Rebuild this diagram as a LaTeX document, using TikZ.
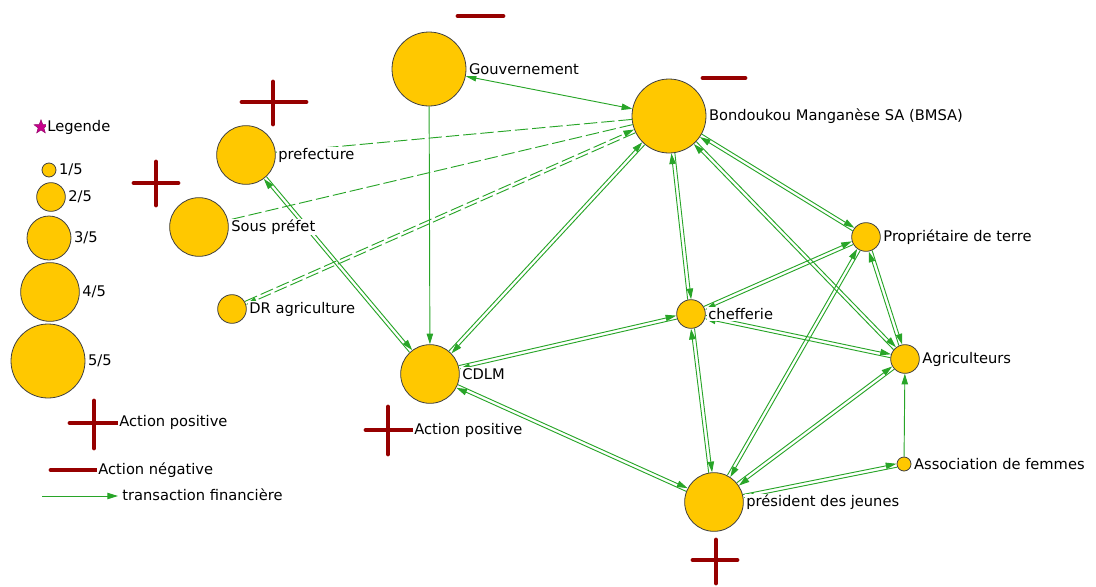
\documentclass[tikz,border=0pt]{standalone}
\usepackage{fontspec}
\setmainfont{DejaVu Sans}
\usetikzlibrary{arrows.meta,calc,positioning,backgrounds,shapes.geometric}

\definecolor{jaune}{RGB}{255,200,0}
\definecolor{vert}{RGB}{40,165,40}
\definecolor{rouge}{RGB}{150,0,0}
\definecolor{rose}{RGB}{200,0,140}

\tikzset{
  acteur/.style={circle, draw=black!75, fill=jaune, inner sep=0pt, line width=0.6pt},
  taille1/.style={acteur, minimum size=10.5pt},
  taille2/.style={acteur, minimum size=21.5pt},
  taille3/.style={acteur, minimum size=33pt},
  taille4/.style={acteur, minimum size=44pt},
  taille5/.style={acteur, minimum size=55.5pt},
  lbl/.style={fill=white, inner sep=0.8pt, font=\fontsize{11}{13}\selectfont},
  pointe/.tip={Triangle[length=8pt,width=4.8pt]},
  flux/.style={draw=vert, line width=0.7pt, -pointe},
  fluxp/.style={flux, dash pattern=on 10pt off 3pt},
  signe/.style={draw=rouge, line width=3.6pt, line cap=round},
}

%% deux traits paralleles, un dans chaque sens
\newcommand{\echange}[3][]{%
  \draw[flux,#1,transform canvas={shift={($(#2)!1.3pt!90:(#3)-(#2)$)}}] (#2) -- (#3);
  \draw[flux,#1,transform canvas={shift={($(#3)!1.3pt!90:(#2)-(#3)$)}}] (#3) -- (#2);
}

\begin{document}
\begin{tikzpicture}[x=0.75pt,y=-0.75pt]
   \useasboundingbox (0,0) rectangle (1096,586);

   %% Acteurs
   \node[taille5] (gouv)  at (429,69)  {};
   \node[taille5] (bmsa)  at (669,116) {};
   \node[taille4] (pref)  at (246,155) {};
   \node[taille4] (spref) at (199,227) {};
   \node[taille2] (dra)   at (232,309) {};
   \node[taille4] (cdlm)  at (430,374) {};
   \node[taille2] (chef)  at (691,314) {};
   \node[taille4] (pdj)   at (714,502) {};
   \node[taille2] (prop)  at (866,237) {};
   \node[taille2] (agri)  at (905,359) {};
   \node[taille1] (asso)  at (904,464) {};

   \node[lbl, right=1pt of gouv]  (gouv-t)  {Gouvernement};
   \node[lbl, right=1pt of bmsa]  (bmsa-t)  {Bondoukou Manganèse SA (BMSA)};
   \node[lbl, right=1pt of pref]  (pref-t)  {prefecture};
   \node[lbl, right=1pt of spref] (spref-t) {Sous préfet};
   \node[lbl, right=1pt of dra]   (dra-t)   {DR agriculture};
   \node[lbl, right=1pt of cdlm]  (cdlm-t)  {CDLM};
   \node[lbl, right=1pt of chef]  (chef-t)  {chefferie};
   \node[lbl, right=1pt of pdj]   (pdj-t)   {président des jeunes};
   \node[lbl, right=1pt of prop]  (prop-t)  {Propriétaire de terre};
   \node[lbl, right=1pt of agri]  (agri-t)  {Agriculteurs};
   \node[lbl, right=1pt of asso]  (asso-t)  {Association de femmes};

   %% Transactions
   \begin{pgfonlayer}{background}
   \draw[flux, pointe-pointe] (gouv) -- (bmsa);
   \draw[flux] (gouv) -- (cdlm);
   \draw[fluxp, -] (bmsa) -- (pref);
   \draw[fluxp, -] (bmsa) -- (spref);
   \echange[fluxp]{bmsa}{dra}
   \echange{pref}{cdlm}
   \echange{bmsa}{cdlm}
   \echange{cdlm}{chef}
   \echange{cdlm}{pdj}
   \echange{bmsa}{chef}
   \echange{bmsa}{prop}
   \echange{bmsa}{agri}
   \echange{chef}{prop}
   \echange{chef}{agri}
   \echange{prop}{agri}
   \echange{chef}{pdj}
   \echange{prop}{pdj}
   \echange{agri}{pdj}
   \echange{pdj}{asso}
   \draw[flux] (asso) -- (agri);
   \end{pgfonlayer}

   %% Actions
   \draw[signe] (458,16) -- (503,16);
   \draw[signe] (703,78) -- (745,78);
   \draw[signe] (242,102) -- (306,102);
   \draw[signe] (273,82) -- (273,124);
   \draw[signe] (134,183) -- (178,183);
   \draw[signe] (156,162) -- (156,205);
   \draw[signe] (366,430) -- (412,430);
   \draw[signe] (388,407) -- (388,454);
   \draw[signe] (693,560) -- (737,560);
   \draw[signe] (716,540) -- (716,583);
   \node[lbl, anchor=west] (cdlm-pos) at (413,430) {Action positive};

   %% Legende
   \node[star, star points=5, star point ratio=2.4, fill=rose, draw=rose!70!black, line width=0.3pt, inner sep=0pt, minimum size=11pt] (leg-star) at (41,127) {};
   \node[lbl, right=0.5pt of leg-star] (leg-t) {Legende};
   \node[taille1] (leg1) at (49,170) {};
   \node[taille2] (leg2) at (51,197) {};
   \node[taille3] (leg3) at (49,238) {};
   \node[taille4] (leg4) at (50,292) {};
   \node[taille5] (leg5) at (48,361) {};
   \node[lbl, right=1pt of leg1] (leg1-t) {1/5};
   \node[lbl, right=1pt of leg2] (leg2-t) {2/5};
   \node[lbl, right=1pt of leg3] (leg3-t) {3/5};
   \node[lbl, right=1pt of leg4] (leg4-t) {4/5};
   \node[lbl, right=1pt of leg5] (leg5-t) {5/5};

   \draw[signe] (70,423) -- (117,423);
   \draw[signe] (94,401) -- (94,448);
   \node[lbl, anchor=west] (leg-pos) at (118,422) {Action positive};
   \draw[signe] (51,470) -- (97,470);
   \node[lbl, anchor=west] (leg-neg) at (97,470) {Action négative};
   \coordinate (fl-a) at (42,496);
   \coordinate (fl-b) at (118,496);
   \draw[flux] (fl-a) -- (fl-b);
   \node[lbl, anchor=west] (leg-fl) at (121,495) {transaction financière};
\end{tikzpicture}
\end{document}
